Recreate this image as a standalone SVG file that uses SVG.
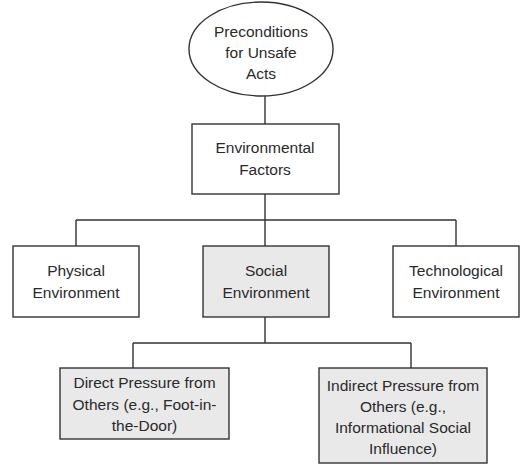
<svg xmlns="http://www.w3.org/2000/svg" width="520" height="465" viewBox="0 0 520 465">
<style>
.n{fill:#fff;stroke:#333;stroke-width:1.4}
.g{fill:#e9e9e9;stroke:#333;stroke-width:1.4}
.t{font-family:"Liberation Sans",Arial,sans-serif;font-size:15.5px;fill:#2a2a2a;text-anchor:middle}
.c{fill:none;stroke:#333;stroke-width:1.4}
</style>
<rect width="520" height="465" fill="#fff"/>
<g id="connectors">
<path class="c" d="M265 95V124"/>
<path class="c" d="M265 194V220M76 220H456M76 220V246M265 220V246M456 220V246"/>
<path class="c" d="M265 317V343M133 343H411M133 343V368M411 343V368"/>
</g>
<g id="preconditions">
<ellipse class="n" cx="261" cy="49" rx="72" ry="47"/>
<text class="t" x="261" y="37">Preconditions</text>
<text class="t" x="261" y="58">for Unsafe</text>
<text class="t" x="261" y="79">Acts</text>
</g>
<g id="environmental">
<rect class="n" x="192" y="124" width="147" height="70"/>
<text class="t" x="265" y="153">Environmental</text>
<text class="t" x="265" y="175">Factors</text>
</g>
<g id="physical">
<rect class="n" x="13" y="246" width="126" height="71"/>
<text class="t" x="76" y="276">Physical</text>
<text class="t" x="76" y="298">Environment</text>
</g>
<g id="social">
<rect class="g" x="203" y="246" width="126" height="71"/>
<text class="t" x="266" y="276">Social</text>
<text class="t" x="266" y="298">Environment</text>
</g>
<g id="technological">
<rect class="n" x="393" y="246" width="126" height="71"/>
<text class="t" x="456" y="276">Technological</text>
<text class="t" x="456" y="298">Environment</text>
</g>
<g id="direct">
<rect class="g" x="60" y="368" width="169" height="71"/>
<text class="t" x="144.5" y="388">Direct Pressure from</text>
<text class="t" x="144.5" y="410">Others (e.g., Foot-in-</text>
<text class="t" x="144.5" y="431">the-Door)</text>
</g>
<g id="indirect">
<rect class="g" x="319" y="368" width="168" height="95"/>
<text class="t" x="403" y="391">Indirect Pressure from</text>
<text class="t" x="403" y="412">Others (e.g.,</text>
<text class="t" x="403" y="433">Informational Social</text>
<text class="t" x="403" y="454">Influence)</text>
</g>
</svg>
